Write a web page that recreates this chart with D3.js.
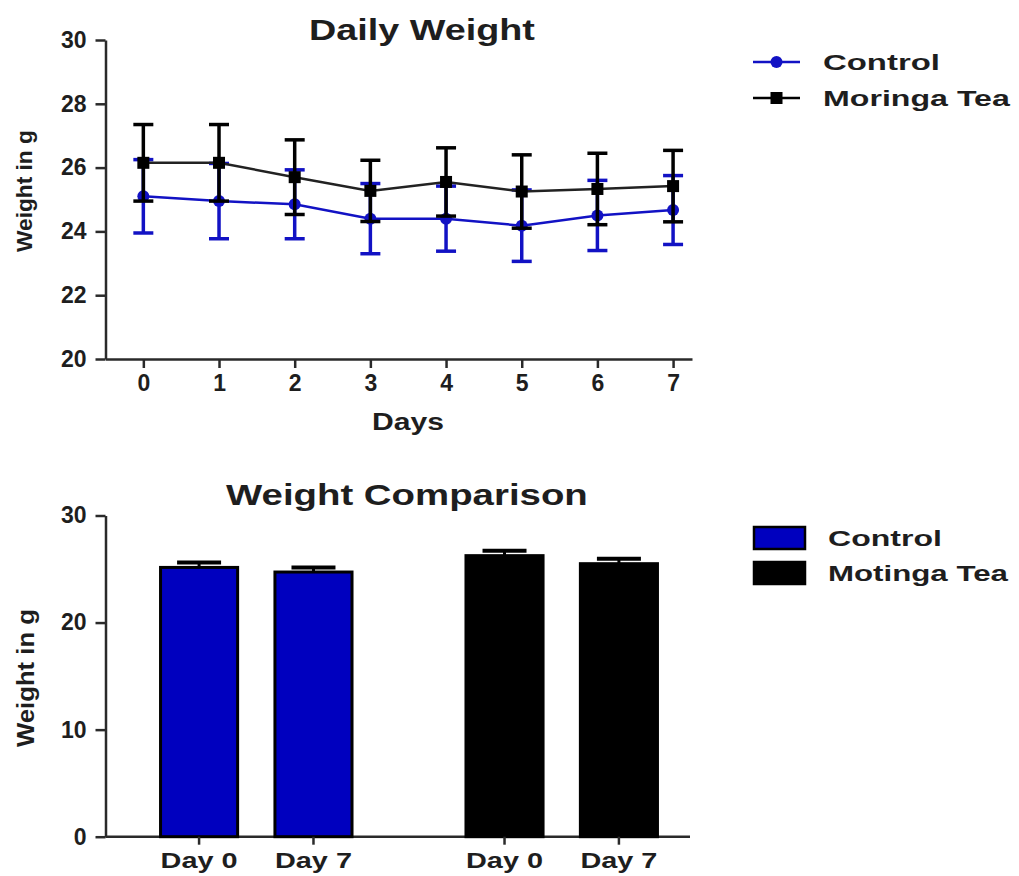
<!DOCTYPE html>
<html><head><meta charset="utf-8">
<script src="https://cdn.jsdelivr.net/npm/d3@7"></script>
<style>
body{margin:0;background:#fff}
svg{display:block}
text{font-family:"Liberation Sans",Arial,sans-serif;font-weight:bold;fill:#1e1e1e}
</style>
</head><body><svg id="c" width="1019" height="876"></svg>
<script>
// ---- Daily weight (line chart) data ----
const days = [0, 1, 2, 3, 4, 5, 6, 7];
const controlMean = [25.10, 24.95, 24.85, 24.40, 24.40, 24.18, 24.50, 24.67];
const controlErr  = [1.15, 1.18, 1.08, 1.10, 1.02, 1.12, 1.10, 1.08];
const moringaMean = [26.15, 26.15, 25.70, 25.27, 25.55, 25.25, 25.33, 25.42];
const moringaErr  = [1.20, 1.20, 1.17, 0.96, 1.07, 1.15, 1.12, 1.12];
const weightTicks = [20, 22, 24, 26, 28, 30];
const lineSeriesNames = ["Control", "Moringa Tea"];

// ---- Weight comparison (bar chart) data ----
const barGroups = ["Control", "Motinga Tea"];
const barDays = ["Day 0", "Day 7"];
const controlBar = [25.15, 24.72];
const controlBarErr = [0.45, 0.42];
const moringaBar = [26.25, 25.50];
const moringaBarErr = [0.45, 0.45];
const barTicks = [0, 10, 20, 30];

const BLUE_LINE = "#1212c4", BLUE_BAR = "#0000bf", BLACK = "#000", AX = "#2a2a2a";
const svg = d3.select("#c");

function styleAxis(g, fs, sx) {
  g.selectAll(".domain").attr("stroke", AX).attr("stroke-width", 2.5);
  g.selectAll(".tick line").attr("stroke", AX).attr("stroke-width", 2.5);
  g.selectAll(".tick text").style("font-size", fs + "px").attr("fill", "#1e1e1e")
    .style("font-family", '"Liberation Sans",Arial,sans-serif').style("font-weight", "bold");
}
// text stretched horizontally to a measured width (glyphs widened, as in the reference)
function label(x, y, str, fs, len, anchor, rot) {
  const t = svg.append("text").attr("x", 0).attr("y", 0).text(str)
    .style("font-size", fs + "px").attr("text-anchor", "start");
  const w = t.node().getComputedTextLength();
  const sx = len / w;
  const off = anchor === "start" ? 0 : -len / 2;
  if (rot) t.attr("transform", `translate(${x},${y}) rotate(${rot}) translate(${off},0) scale(${sx},1)`);
  else t.attr("transform", `translate(${x + off},${y}) scale(${sx},1)`);
  return t;
}

// ================= TOP CHART =================
const x = d3.scaleLinear().domain([-0.5, 7.25]).range([105.5, 692]);
const y = d3.scaleLinear().domain([20, 30]).range([359, 40]);

const gy = svg.append("g").attr("transform", "translate(105.5,0)")
  .call(d3.axisLeft(y).tickValues(weightTicks).tickSize(10).tickSizeOuter(0).tickPadding(9));
styleAxis(gy, 23);
const gx = svg.append("g").attr("transform", "translate(0,359)")
  .call(d3.axisBottom(x).tickValues(days).tickSize(9).tickSizeOuter(0).tickPadding(7));
styleAxis(gx, 23);

const series = [
  {name: lineSeriesNames[0], mean: controlMean, err: controlErr, color: BLUE_LINE, shape: "circle"},
  {name: lineSeriesNames[1], mean: moringaMean, err: moringaErr, color: BLACK, shape: "square"}
];
const line = d3.line().x((d, i) => x(days[i])).y(d => y(d));
series.forEach(s => {
  const g = svg.append("g");
  g.append("path").datum(s.mean).attr("d", line).attr("fill", "none")
    .attr("stroke", s.color === BLACK ? "#222" : s.color).attr("stroke-width", 2.5);
  const eb = g.selectAll(".eb").data(s.mean).join("g");
  eb.append("line").attr("x1", (d, i) => x(days[i])).attr("x2", (d, i) => x(days[i]))
    .attr("y1", (d, i) => y(d - s.err[i])).attr("y2", (d, i) => y(d + s.err[i]))
    .attr("stroke", s.color).attr("stroke-width", 3.5);
  [-1, 1].forEach(sg => {
    eb.append("line").attr("x1", (d, i) => x(days[i]) - 10).attr("x2", (d, i) => x(days[i]) + 10)
      .attr("y1", (d, i) => y(d + sg * s.err[i])).attr("y2", (d, i) => y(d + sg * s.err[i]))
      .attr("stroke", s.color).attr("stroke-width", 3.5);
  });
  if (s.shape === "circle") {
    g.selectAll(".m").data(s.mean).join("circle").attr("cx", (d, i) => x(days[i])).attr("cy", d => y(d))
      .attr("r", 6).attr("fill", s.color);
  } else {
    g.selectAll(".m").data(s.mean).join("rect").attr("x", (d, i) => x(days[i]) - 6).attr("y", d => y(d) - 6)
      .attr("width", 12).attr("height", 12).attr("fill", s.color);
  }
});

label(422, 40, "Daily Weight", 30, 226);
label(408, 430, "Days", 23, 72);
label(32, 191, "Weight in g", 23, 122, "middle", -90);

// top legend
series.forEach((s, i) => {
  const ly = 62 + i * 36;
  svg.append("line").attr("x1", 753).attr("x2", 800).attr("y1", ly).attr("y2", ly)
    .attr("stroke", s.color).attr("stroke-width", 2.5);
  if (s.shape === "circle") svg.append("circle").attr("cx", 776.5).attr("cy", ly).attr("r", 6).attr("fill", s.color);
  else svg.append("rect").attr("x", 770.5).attr("y", ly - 6).attr("width", 12).attr("height", 12).attr("fill", s.color);
  label(823, ly + 8, s.name, 22, i === 0 ? 117 : 187, "start");
});

// ================= BOTTOM CHART =================
const y2 = d3.scaleLinear().domain([0, 30]).range([836.7, 515.5]);
const outer = d3.scaleBand().domain(barGroups).range([106, 712]).paddingInner(0.2).paddingOuter(0.092);
const inner = d3.scaleBand().domain(barDays).range([0, outer.bandwidth()]).paddingInner(0.3).paddingOuter(0.218);

const gy2 = svg.append("g").attr("transform", "translate(105.5,0)")
  .call(d3.axisLeft(y2).tickValues(barTicks).tickSize(10).tickSizeOuter(0).tickPadding(9));
styleAxis(gy2, 23);
svg.append("line").attr("x1", 105.5).attr("x2", 690).attr("y1", y2(0)).attr("y2", y2(0))
  .attr("stroke", AX).attr("stroke-width", 2.5);

const barData = [
  {group: barGroups[0], vals: controlBar, errs: controlBarErr, fill: BLUE_BAR},
  {group: barGroups[1], vals: moringaBar, errs: moringaBarErr, fill: BLACK}
];
barData.forEach(bd => {
  const g = svg.append("g").attr("transform", `translate(${outer(bd.group)},0)`);
  const items = bd.vals.map((v, i) => ({day: barDays[i], v, e: bd.errs[i]}));
  g.selectAll(".ev").data(items).join("line")
    .attr("x1", d => inner(d.day) + inner.bandwidth() / 2).attr("x2", d => inner(d.day) + inner.bandwidth() / 2)
    .attr("y1", d => y2(d.v)).attr("y2", d => y2(d.v + d.e)).attr("stroke", BLACK).attr("stroke-width", 3);
  g.selectAll(".ec").data(items).join("line")
    .attr("x1", d => inner(d.day) + inner.bandwidth() / 2 - 22).attr("x2", d => inner(d.day) + inner.bandwidth() / 2 + 22)
    .attr("y1", d => y2(d.v + d.e)).attr("y2", d => y2(d.v + d.e)).attr("stroke", BLACK).attr("stroke-width", 4);
  g.selectAll(".b").data(items).join("rect")
    .attr("x", d => inner(d.day) + 1.5).attr("width", inner.bandwidth() - 3)
    .attr("y", d => y2(d.v)).attr("height", d => y2(0) - y2(d.v))
    .attr("fill", bd.fill).attr("stroke", BLACK).attr("stroke-width", 3);
  items.forEach(d => {
    const cx = outer(bd.group) + inner(d.day) + inner.bandwidth() / 2;
    svg.append("line").attr("x1", cx).attr("x2", cx).attr("y1", y2(0)).attr("y2", y2(0) + 8)
      .attr("stroke", AX).attr("stroke-width", 2.5);
    label(cx, 868, d.day, 22, 77);
  });
});

label(407, 505, "Weight Comparison", 30, 362);
label(34, 678, "Weight in g", 23, 138, "middle", -90);

// bottom legend
barData.forEach((bd, i) => {
  const ly = 527 + i * 35;
  svg.append("rect").attr("x", 754).attr("y", ly).attr("width", 51).attr("height", 22)
    .attr("fill", bd.fill).attr("stroke", BLACK).attr("stroke-width", 2.5);
  label(828, ly + 19, bd.group, 22, i === 0 ? 114 : 180, "start");
});
</script>
</body></html>
